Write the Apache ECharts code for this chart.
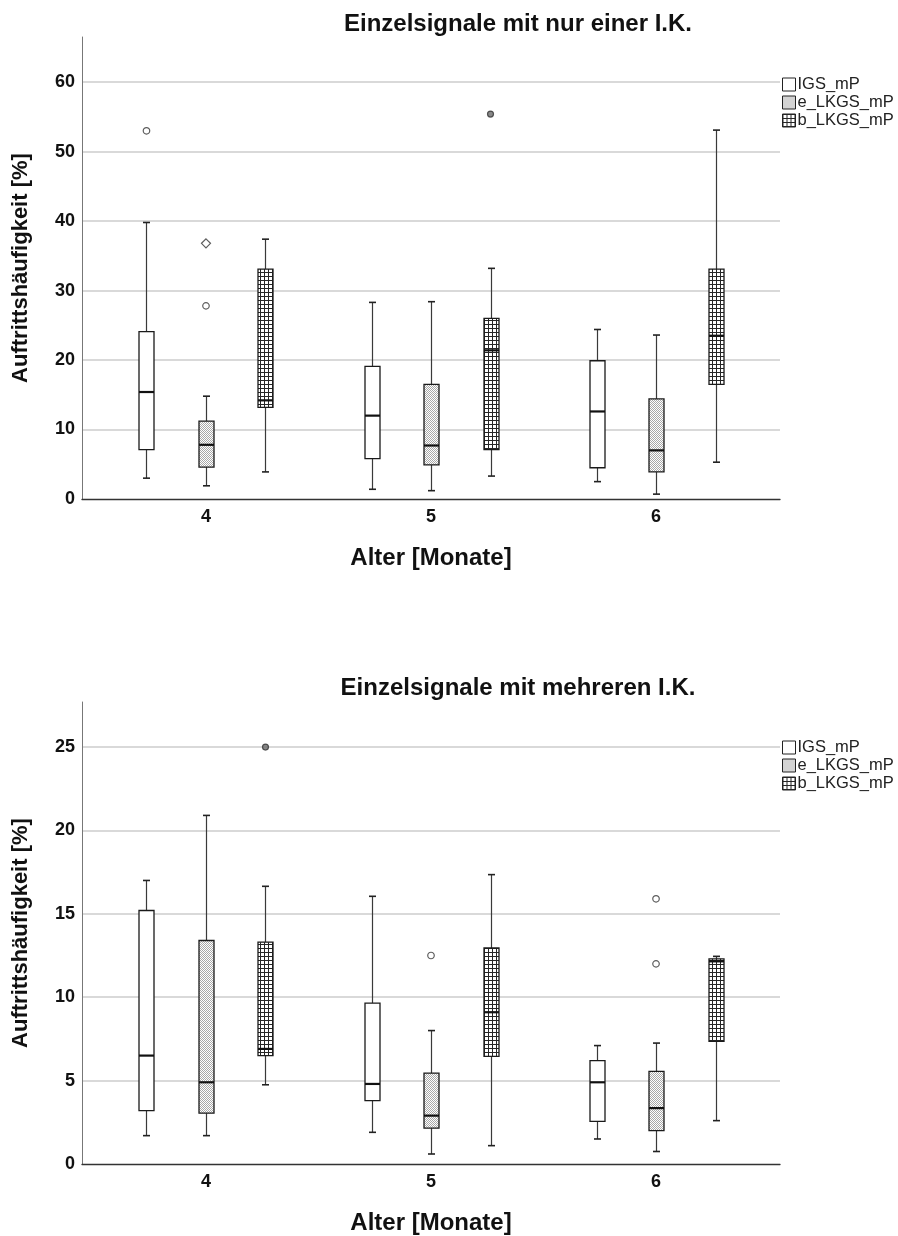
<!DOCTYPE html>
<html><head><meta charset="utf-8">
<script src="https://cdn.jsdelivr.net/npm/echarts@6/dist/echarts.min.js"></script>
<style>html,body{margin:0;padding:0;background:#fff}#c{width:898px;height:1236px}</style>
</head><body><div id="c"></div>
<script>
// ---------- DATA ----------
const categories = [4, 5, 6];
const seriesNames = ['IGS_mP', 'e_LKGS_mP', 'b_LKGS_mP'];
const titles = ['Einzelsignale mit nur einer I.K.', 'Einzelsignale mit mehreren I.K.'];
const yAxisName = 'Auftrittshäufigkeit [%]';
const xAxisName = 'Alter [Monate]';
const topYTicks = [0, 10, 20, 30, 40, 50, 60];
const bottomYTicks = [0, 5, 10, 15, 20, 25];

// [lower whisker, Q1, median, Q3, upper whisker] for Alter 4, 5, 6
const top_IGS_mP   = [[3.0, 7.1, 15.4, 24.1, 39.8], [1.4, 5.8, 12.0, 19.1, 28.3], [2.5, 4.5, 12.6, 19.9, 24.4]];
const top_eLKGS_mP = [[1.9, 4.6, 7.8, 11.2, 14.8], [1.2, 4.9, 7.7, 16.5, 28.4], [0.7, 3.9, 7.0, 14.4, 23.6]];
const top_bLKGS_mP = [[3.9, 13.2, 14.2, 33.1, 37.4], [3.3, 7.1, 21.4, 26.0, 33.2], [5.3, 16.5, 23.5, 33.1, 53.1]];
// [Alter, series, value, kind]  kind: o = circle, d = diamond, f = filled circle
const topOutliers = [[4, 'IGS_mP', 53.0, 'o'], [4, 'e_LKGS_mP', 36.8, 'd'], [4, 'e_LKGS_mP', 27.8, 'o'], [5, 'b_LKGS_mP', 55.4, 'f']];

const bot_IGS_mP   = [[1.7, 3.2, 6.5, 15.2, 17.0], [1.9, 3.8, 4.8, 9.65, 16.05], [1.5, 2.55, 4.9, 6.2, 7.1]];
const bot_eLKGS_mP = [[1.7, 3.05, 4.9, 13.4, 20.9], [0.6, 2.15, 2.9, 5.45, 8.0], [0.75, 2.0, 3.35, 5.55, 7.25]];
const bot_bLKGS_mP = [[4.75, 6.5, 6.9, 13.3, 16.65], [1.1, 6.45, 9.1, 12.95, 17.35], [2.6, 7.35, 12.15, 12.3, 12.45]];
const botOutliers = [[4, 'b_LKGS_mP', 25.0, 'f'], [5, 'e_LKGS_mP', 12.5, 'o'], [6, 'e_LKGS_mP', 15.9, 'o'], [6, 'e_LKGS_mP', 12.0, 'o']];

// ---------- STYLE ----------
const FONT = 'Liberation Sans, Arial, sans-serif';
const OFFSETS = {'IGS_mP': -59.5, 'e_LKGS_mP': 0, 'b_LKGS_mP': 59.5};
const BOX_W = 15, CAP_W = 7;

function makePattern(kind) {
  const c = document.createElement('canvas');
  c.width = 4; c.height = 4;
  const g = c.getContext('2d');
  g.fillStyle = '#ffffff'; g.fillRect(0, 0, 4, 4);
  if (kind === 'dots') {
    g.fillStyle = '#a8a8a8';
    for (let yy = 0; yy < 4; yy++) for (let xx = 0; xx < 4; xx++) if ((xx + yy) % 2 === 0) g.fillRect(xx, yy, 1, 1);
  } else if (kind === 'grid') {
    g.fillStyle = '#262626';
    g.fillRect(0, 0, 4, 1); g.fillRect(0, 0, 1, 4);
  }
  return {image: c, repeat: 'repeat'};
}
const fills = {
  'IGS_mP': '#ffffff',
  'e_LKGS_mP': makePattern('dots'),
  'b_LKGS_mP': makePattern('grid')
};

function boxRender(name) {
  const off = OFFSETS[name];
  return function (params, api) {
    const x = api.value(0);
    const lo = api.coord([x, api.value(1)]);
    const q1 = api.coord([x, api.value(2)]);
    const md = api.coord([x, api.value(3)]);
    const q3 = api.coord([x, api.value(4)]);
    const hi = api.coord([x, api.value(5)]);
    const cx = Math.round(lo[0] + off) + 0.5;
    const wl = {stroke: '#3a3a3a', lineWidth: 1.2};
    const cap = {stroke: '#222', lineWidth: 1.6};
    return {
      type: 'group',
      children: [
        {type: 'line', shape: {x1: cx, y1: q3[1], x2: cx, y2: hi[1]}, style: wl},
        {type: 'line', shape: {x1: cx, y1: q1[1], x2: cx, y2: lo[1]}, style: wl},
        {type: 'line', shape: {x1: cx - CAP_W / 2, y1: hi[1], x2: cx + CAP_W / 2, y2: hi[1]}, style: cap},
        {type: 'line', shape: {x1: cx - CAP_W / 2, y1: lo[1], x2: cx + CAP_W / 2, y2: lo[1]}, style: cap},
        {type: 'rect', shape: {x: cx - BOX_W / 2, y: q3[1], width: BOX_W, height: q1[1] - q3[1]},
          style: {fill: fills[name], stroke: '#1a1a1a', lineWidth: 1.3}},
        {type: 'line', shape: {x1: cx - BOX_W / 2, y1: md[1], x2: cx + BOX_W / 2, y2: md[1]},
          style: {stroke: '#111', lineWidth: 2.2}}
      ]
    };
  };
}

function boxSeries(name, values, gi) {
  return {
    type: 'custom', name: name, xAxisIndex: gi, yAxisIndex: gi,
    itemStyle: {color: '#777'},
    renderItem: boxRender(name),
    encode: {x: 0, y: [1, 2, 3, 4, 5]},
    data: values.map((v, i) => [categories[i]].concat(v)),
    z: 3
  };
}

function outlierSeries(list, gi) {
  return {
    type: 'scatter', name: 'outliers' + gi, xAxisIndex: gi, yAxisIndex: gi, z: 4,
    data: list.map(o => {
      const kind = o[3];
      return {
        value: [o[0], o[2]],
        symbol: kind === 'd' ? 'diamond' : 'circle',
        symbolSize: kind === 'd' ? 9 : (kind === 'f' ? 6 : 6.5),
        symbolOffset: [OFFSETS[o[1]], 0],
        itemStyle: {color: kind === 'f' ? '#6a6a6a' : '#ffffff', borderColor: '#333', borderWidth: 1.2}
      };
    })
  };
}

const gridsPx = [{top: 37, height: 462}, {top: 702, height: 463}];
const yMax = [66.5, 27.7];
const yInt = [topYTicks[1] - topYTicks[0], bottomYTicks[1] - bottomYTicks[0]];
const titleTops = [7, 671];
const legendTops = [76, 739];

const option = {
  animation: false,
  backgroundColor: '#ffffff',
  title: titles.map((t, i) => ({
    text: t, left: 513, top: titleTops[i], textAlign: 'center',
    textStyle: {fontFamily: FONT, fontWeight: 'bold', fontSize: 24, color: '#111'}
  })),
  legend: [0, 1].map(i => ({
    orient: 'vertical', left: 782, top: legendTops[i], itemWidth: 13, itemHeight: 13, itemGap: 1,
    icon: 'rect', selectedMode: false, padding: 0,
    textStyle: {fontFamily: FONT, fontSize: 16.5, color: '#222', lineHeight: 15, padding: [0, 0, 0, -3]},
    data: seriesNames.map(n => ({name: n, icon: 'rect', itemStyle: {color: fills[n], borderColor: '#222', borderWidth: 1}}))
  })),
  grid: gridsPx.map(g => ({left: 82, width: 698, top: g.top, height: g.height, containLabel: false})),
  xAxis: [0, 1].map(i => ({
    gridIndex: i, type: 'value', min: 3.449, max: 6.551,
    name: xAxisName, nameLocation: 'middle', nameGap: 47,
    nameTextStyle: {fontFamily: FONT, fontWeight: 'bold', fontSize: 24, color: '#111'},
    axisLine: {show: true, lineStyle: {color: '#333', width: 1.3}},
    axisTick: {show: false},
    splitLine: {show: false},
    axisLabel: {customValues: categories, margin: 9, fontFamily: FONT, fontWeight: 'bold', fontSize: 18, color: '#111',
      formatter: v => String(v)}
  })),
  yAxis: [0, 1].map(i => ({
    gridIndex: i, type: 'value', min: 0, max: yMax[i], interval: yInt[i],
    name: yAxisName, nameLocation: 'middle', nameGap: 50,
    nameTextStyle: {fontFamily: FONT, fontWeight: 'bold', fontSize: 22, color: '#111'},
    axisLine: {show: true, lineStyle: {color: '#777', width: 1}},
    axisTick: {show: false},
    splitLine: {show: true, showMaxLine: false, showMinLine: false, lineStyle: {color: '#cdcdcd', width: 1.6}},
    axisLabel: {showMaxLabel: false, margin: 7, fontFamily: FONT, fontWeight: 'bold', fontSize: 18, color: '#111'}
  })),
  series: [
    boxSeries('IGS_mP', top_IGS_mP, 0),
    boxSeries('e_LKGS_mP', top_eLKGS_mP, 0),
    boxSeries('b_LKGS_mP', top_bLKGS_mP, 0),
    outlierSeries(topOutliers, 0),
    boxSeries('IGS_mP', bot_IGS_mP, 1),
    boxSeries('e_LKGS_mP', bot_eLKGS_mP, 1),
    boxSeries('b_LKGS_mP', bot_bLKGS_mP, 1),
    outlierSeries(botOutliers, 1)
  ]
};
const chart = echarts.init(document.getElementById('c'), null, {renderer: 'canvas'});
chart.setOption(option);
</script></body></html>
